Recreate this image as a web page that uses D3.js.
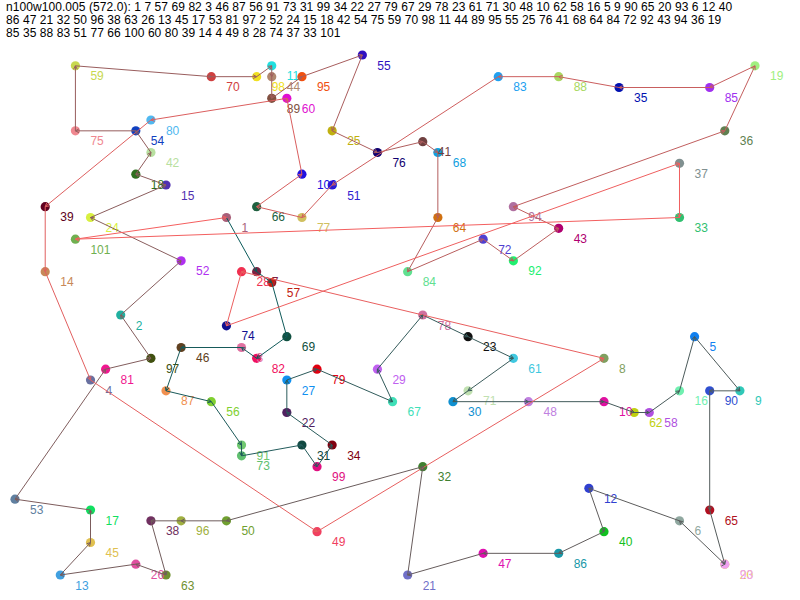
<!DOCTYPE html>
<html>
<head>
<meta charset="utf-8">
<script src="https://cdn.jsdelivr.net/npm/d3@7"></script>
<style>
  body { margin: 0; background: #fff; }
  text { font-family: "Liberation Sans", Arial, sans-serif; font-size: 12px; }
</style>
</head>
<body>
<div id="chart"></div>
<script>
// Instance name and tour cost shown in the heading
var instanceName = "n100w100.005";
var tourCost = "572.0";

// Grid position of every customer (index 0 is customer 1)
var gridX = [14, 7, 15, 5, 45, 44, 16, 39, 48, 39, 17, 38, 3, 2, 10, 44, 5, 8, 49, 47,
  26, 18, 30, 5, 21, 8, 18, 15, 24, 29, 19, 27, 44, 21, 40, 47, 44, 9, 2, 39,
  27, 9, 36, 17, 5, 11, 31, 34, 20, 14, 21, 11, 0, 8, 23, 13, 17, 42, 4, 18,
  33, 41, 10, 28, 46, 16, 25, 28, 18, 13, 30, 31, 15, 14, 4, 24, 19, 27, 20, 9,
  6, 16, 32, 26, 46, 36, 10, 36, 17, 46, 15, 33, 47, 33, 19, 11, 9, 16, 20, 19, 4];
var gridY = [15, 24, 27, 30, 26, 43, 20, 28, 31, 32, 1, 40, 48, 20, 12, 31, 42, 11, 1, 47,
  48, 33, 26, 15, 7, 47, 30, 20, 29, 32, 36, 38, 15, 36, 3, 7, 10, 43, 14, 44,
  8, 9, 16, 2, 45, 27, 46, 32, 44, 43, 12, 19, 41, 7, 0, 32, 21, 33, 1, 4,
  28, 33, 48, 15, 42, 14, 32, 9, 26, 2, 31, 17, 37, 25, 7, 9, 15, 24, 29, 6,
  29, 28, 2, 20, 3, 46, 31, 2, 4, 31, 36, 19, 47, 14, 2, 43, 28, 2, 38, 11, 17];

// Colour of every customer dot and its label
var nodeColors = ["#a8607a", "#20b0a0", "#e070a0", "#6870a0", "#1080f0", "#90a8a0", "#802040", "#80a060", "#30c8b8", "#e010a0",
  "#20e0e0", "#3040d0", "#40a0e0", "#c88858", "#5030b0", "#70f0b0", "#10e060", "#307020", "#a0f080", "#e0d040",
  "#7070c8", "#502060", "#101010", "#d8f040", "#c0b010", "#e050a0", "#1090f0", "#f03050", "#c060f0", "#1090d0",
  "#104840", "#408030", "#30c070", "#800010", "#0010b0", "#608050", "#809090", "#703060", "#600020", "#10c020",
  "#704040", "#b8e0a0", "#b00070", "#b08870", "#e0c050", "#604020", "#e010b0", "#c080e0", "#f04060", "#70a030",
  "#3020d0", "#b030f0", "#6080a0", "#1040c0", "#3010c0", "#80d030", "#c02010", "#b050e0", "#c8d850", "#e010d0",
  "#40c8e0", "#c0d010", "#709030", "#d07010", "#b01020", "#206040", "#40e0b8", "#10a0e0", "#105040", "#d04040",
  "#c0e0b0", "#5040d0", "#60c070", "#101090", "#f08890", "#100070", "#d0c060", "#d070a0", "#e00010", "#50b8f0",
  "#f01890", "#f01060", "#20a0f0", "#60e090", "#a030f0", "#1898a8", "#f09050", "#a8d860", "#805040", "#3050d0",
  "#70c870", "#20f070", "#f0a0f0", "#b070a0", "#f05010", "#a0b040", "#405010", "#f0e020", "#e01080", "#2010e0", "#70b050"];

// Visiting order of the tour
var tour = [1, 7, 57, 69, 82, 3, 46, 87, 56, 91, 73, 31, 99, 34, 22, 27, 79, 67, 29, 78,
  23, 61, 71, 30, 48, 10, 62, 58, 16, 5, 9, 90, 65, 20, 93, 6, 12, 40, 86, 47,
  21, 32, 50, 96, 38, 63, 26, 13, 45, 17, 53, 81, 97, 2, 52, 24, 15, 18, 42, 54,
  75, 59, 70, 98, 11, 44, 89, 95, 55, 25, 76, 41, 68, 64, 84, 72, 92, 43, 94, 36,
  19, 85, 35, 88, 83, 51, 77, 66, 100, 60, 80, 39, 14, 4, 49, 8, 28, 74, 37, 33, 101];

// How many tour entries go on each heading line
var headingBreaks = [38, 81];

var svgWidth = 800;
var svgHeight = 600;

var svg = d3.select("#chart")
  .append("svg")
  .attr("width", svgWidth)
  .attr("height", svgHeight);

var xScale = d3.scaleLinear().domain([0, 49]).range([15, 755]);
var yScale = d3.scaleLinear().domain([0, 48]).range([55, 575]);

var nodes = gridX.map(function(gx, i) {
  return { id: i + 1, x: xScale(gx), y: yScale(gridY[i]), color: nodeColors[i] };
});

// Heading: name, cost and tour wrapped on three lines
var lines = [
  tour.slice(0, headingBreaks[0]),
  tour.slice(headingBreaks[0], headingBreaks[1]),
  tour.slice(headingBreaks[1])
];
svg.append("g").selectAll("text")
  .data(lines)
  .enter()
  .append("text")
  .attr("x", 6)
  .attr("y", (d, i) => 11 + i * 13)
  .attr("fill", "#000")
  .style("letter-spacing", "0.07px")
  .text((d, i) => (i == 0 ? instanceName + " (" + tourCost + "): " : "") + d.join(" "));

// Dots
svg.append("g").selectAll("circle")
  .data(nodes)
  .enter()
  .append("circle")
  .attr("cx", d => d.x)
  .attr("cy", d => d.y)
  .attr("r", 4.6)
  .attr("fill", d => d.color);

// Labels
svg.append("g").selectAll("text")
  .data(nodes)
  .enter()
  .append("text")
  .attr("x", d => d.x + 15)
  .attr("y", d => d.y + 14.5)
  .attr("fill", d => d.color)
  .text(d => d.id);

// Tour edges, coloured from teal at the start to red at the end
var edgeColor = d3.interpolateRgb("rgb(10,90,90)", "rgb(245,95,95)");
var edges = tour.map(function(id, i) {
  return { from: nodes[id - 1], to: nodes[tour[(i + 1) % tour.length] - 1], t: i / (tour.length - 1) };
});

var edgeGroup = svg.append("g").attr("fill", "none").attr("stroke-width", 1);
edgeGroup.selectAll("line")
  .data(edges)
  .enter()
  .append("line")
  .attr("x1", d => d.from.x)
  .attr("y1", d => d.from.y)
  .attr("x2", d => d.to.x)
  .attr("y2", d => d.to.y)
  .attr("stroke", d => edgeColor(d.t));

// little arrow heads at the end of each edge
edgeGroup.selectAll("path")
  .data(edges)
  .enter()
  .append("path")
  .attr("stroke", d => edgeColor(d.t))
  .attr("d", function(d) {
    var a = Math.atan2(d.to.y - d.from.y, d.to.x - d.from.x);
    var p = d3.path();
    p.moveTo(d.to.x - 4 * Math.cos(a - 0.5), d.to.y - 4 * Math.sin(a - 0.5));
    p.lineTo(d.to.x, d.to.y);
    p.lineTo(d.to.x - 4 * Math.cos(a + 0.5), d.to.y - 4 * Math.sin(a + 0.5));
    return p.toString();
  });
</script>
</body>
</html>
